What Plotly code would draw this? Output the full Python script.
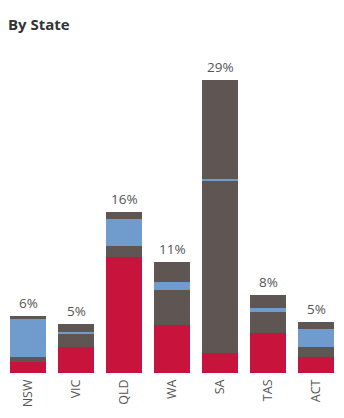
import plotly.graph_objects as go

# Share of total (%) by state, stacked in four segments from the bottom up
states = ["NSW", "VIC", "QLD", "WA", "SA", "TAS", "ACT"]
seg_red = [1.06, 2.55, 11.47, 4.73, 1.95, 3.93, 1.56]
seg_gray_low = [0.50, 1.29, 1.09, 3.50, 17.05, 2.08, 0.99]
seg_blue = [3.77, 0.23, 2.68, 0.79, 0.27, 0.43, 1.78]
seg_gray_top = [0.30, 0.76, 0.69, 1.98, 9.74, 1.26, 0.69]

RED = "#C8143C"
GRAY = "#5F5654"
BLUE = "#6F9CCD"

totals = [a + b + c + d for a, b, c, d in zip(seg_red, seg_gray_low, seg_blue, seg_gray_top)]
labels = [f"{round(t):d}%" for t in totals]

fig = go.Figure()
for vals, col in [(seg_red, RED), (seg_gray_low, GRAY), (seg_blue, BLUE), (seg_gray_top, GRAY)]:
    fig.add_trace(go.Bar(x=states, y=vals, marker=dict(color=col, line=dict(width=0)),
                         hoverinfo="skip", showlegend=False))

# Total labels above each bar
for s, t, lab in zip(states, totals, labels):
    fig.add_annotation(x=s, y=t, text=lab, showarrow=False, yanchor="bottom", yshift=2,
                       font=dict(family="Open Sans, sans-serif", size=13.5, color="#555555"))

fig.update_layout(
    width=344, height=418,
    margin=dict(l=4, r=4, t=40, b=45),
    barmode="stack", bargap=0.25,
    paper_bgcolor="white", plot_bgcolor="white",
    title=dict(text="<b>By State</b>", x=0.023, xanchor="left", y=0.94, yanchor="middle",
               font=dict(family="Open Sans, sans-serif", size=15, color="#333333")),
    xaxis=dict(tickangle=-90, showgrid=False, zeroline=False, showline=False, ticks="",
               tickfont=dict(family="Open Sans, sans-serif", size=12.5, color="#555555"),
               ticklabelstandoff=3, range=[-0.5, 6.5]),
    yaxis=dict(range=[0, 33], visible=False, showgrid=False, zeroline=False),
)

fig.write_html("out.html")
